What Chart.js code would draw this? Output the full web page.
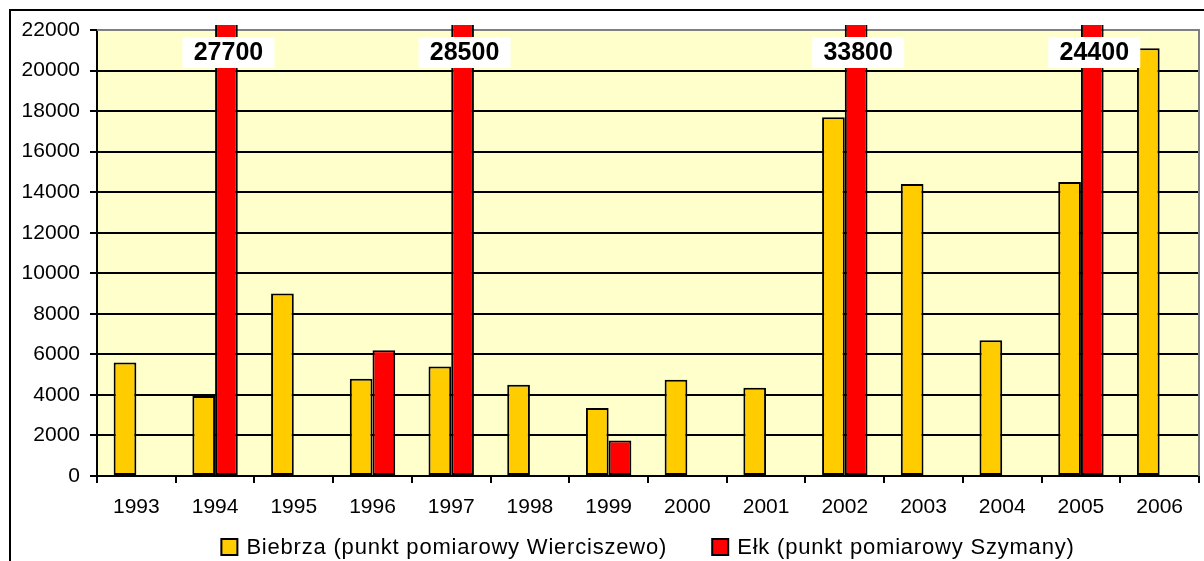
<!DOCTYPE html>
<html>
<head>
<meta charset="utf-8">
<script src="https://cdn.jsdelivr.net/npm/chart.js@4/dist/chart.umd.min.js"></script>
<style>
  html, body { margin: 0; padding: 0; background: #fff; }
  #c { display: block; }
</style>
</head>
<body>
<canvas id="c" width="1204" height="561"></canvas>
<script>
// Roczne wartości dla dwóch punktów pomiarowych
const years = ['1993', '1994', '1995', '1996', '1997', '1998', '1999', '2000', '2001', '2002', '2003', '2004', '2005', '2006'];
const biebrza = [5600, 3950, 9000, 4800, 5400, 4500, 3350, 4750, 4350, 17700, 14400, 6700, 14500, 21100];
const elk = [null, 27700, null, 6200, 28500, null, 1750, null, null, 33800, null, null, 24400, null];
const seriesNames = ['Biebrza (punkt pomiarowy Wierciszewo)', 'Ełk (punkt pomiarowy Szymany)'];
const yMax = 22000;
const yStep = 2000;

const FONT = '"Liberation Sans", Arial, sans-serif';

// Tło, ramka wykresu i obszaru kreślenia
const framePlugin = {
  id: 'frame',
  beforeDraw(chart) {
    const { ctx, chartArea: a } = chart;
    ctx.save();
    ctx.fillStyle = '#ffffff';
    ctx.fillRect(0, 0, chart.width, chart.height);
    ctx.fillStyle = '#FFFFCC';
    ctx.fillRect(a.left, a.top, a.right - a.left, a.bottom - a.top);
    ctx.strokeStyle = '#000';
    ctx.lineWidth = 2;
    ctx.strokeRect(10, 10, 1400, 800);
    ctx.restore();
  },
  beforeDatasetsDraw(chart) {
    const { ctx, chartArea: a } = chart;
    ctx.save();
    ctx.strokeStyle = '#808080';
    ctx.lineWidth = 2;
    ctx.beginPath();
    ctx.moveTo(a.left, a.top);
    ctx.lineTo(a.right, a.top);
    ctx.lineTo(a.right, a.bottom);
    ctx.stroke();
    ctx.restore();
  }
};

// Etykiety wartości dla słupków wychodzących poza skalę
const overflowLabels = {
  id: 'overflowLabels',
  afterDatasetsDraw(chart) {
    const { ctx } = chart;
    const meta = chart.getDatasetMeta(1);
    const data = chart.data.datasets[1].data;
    ctx.save();
    ctx.font = 'bold 25px ' + FONT;
    ctx.textAlign = 'center';
    ctx.textBaseline = 'middle';
    meta.data.forEach((bar, i) => {
      const v = data[i];
      if (v == null || v <= yMax) return;
      const cx = bar.x + 2;
      ctx.fillStyle = '#ffffff';
      ctx.fillRect(cx - 46, 37, 92, 31);
      ctx.fillStyle = '#000';
      ctx.fillText(String(v), cx, 53);
    });
    ctx.restore();
  }
};

// Legenda pod osią X
const bottomLegend = {
  id: 'bottomLegend',
  afterDraw(chart) {
    const { ctx, chartArea: a } = chart;
    const ds = chart.data.datasets;
    ctx.save();
    ctx.font = '22px ' + FONT;
    if ('letterSpacing' in ctx) ctx.letterSpacing = '0.8px';
    const box = 16, gapText = 9, gapItem = 45;
    const widths = ds.map(d => ctx.measureText(d.label).width);
    const total = widths.reduce((s, w) => s + box + gapText + w, 0) + gapItem * (ds.length - 1);
    let x = (a.left + a.right) / 2 - total / 2;
    const cy = 547;
    ds.forEach((d, i) => {
      ctx.fillStyle = d.backgroundColor;
      ctx.fillRect(x, cy - box / 2, box, box);
      ctx.strokeStyle = '#000';
      ctx.lineWidth = 2;
      ctx.strokeRect(x, cy - box / 2, box, box);
      ctx.fillStyle = '#000';
      ctx.textAlign = 'left';
      ctx.textBaseline = 'middle';
      ctx.fillText(d.label, x + box + gapText, cy + 1);
      x += box + gapText + widths[i] + gapItem;
    });
    ctx.restore();
  }
};

new Chart(document.getElementById('c'), {
  type: 'bar',
  data: {
    labels: years,
    datasets: [
      {
        label: seriesNames[0],
        data: biebrza,
        backgroundColor: '#FFCC00',
        borderColor: '#000',
        borderWidth: 2,
        borderSkipped: false,
        categoryPercentage: 0.577,
        barPercentage: 1.0,
        clip: { left: 0, top: 5, right: 0, bottom: 0 }
      },
      {
        label: seriesNames[1],
        data: elk,
        backgroundColor: '#FF0000',
        borderColor: '#000',
        borderWidth: 2,
        borderSkipped: false,
        categoryPercentage: 0.577,
        barPercentage: 1.0,
        clip: { left: 0, top: 5, right: 0, bottom: 0 }
      }
    ]
  },
  options: {
    responsive: false,
    animation: false,
    layout: { padding: { top: 30, right: 5, left: 0, bottom: 0 } },
    plugins: {
      legend: { display: false },
      tooltip: { enabled: false }
    },
    scales: {
      x: {
        offset: true,
        grid: {
          offset: true,
          drawOnChartArea: false,
          drawTicks: true,
          tickLength: 7,
          color: '#000',
          lineWidth: 2
        },
        border: { color: '#000', width: 2 },
        ticks: {
          color: '#000',
          font: { family: FONT, size: 21 },
          padding: 12,
          maxRotation: 0
        },
        afterFit(scale) { scale.height = 85; }
      },
      y: {
        min: 0,
        max: yMax,
        grid: {
          color: ctx => (ctx.tick && ctx.tick.value === yMax) ? '#808080' : '#000',
          tickColor: '#000',
          lineWidth: 2,
          tickLength: 7
        },
        border: { color: '#000', width: 2 },
        ticks: {
          stepSize: yStep,
          color: '#000',
          font: { family: FONT, size: 21 },
          padding: 10,
          callback: v => String(v)
        },
        afterFit(scale) { scale.width = 97; }
      }
    }
  },
  plugins: [framePlugin, overflowLabels, bottomLegend]
});
</script>
</body>
</html>
